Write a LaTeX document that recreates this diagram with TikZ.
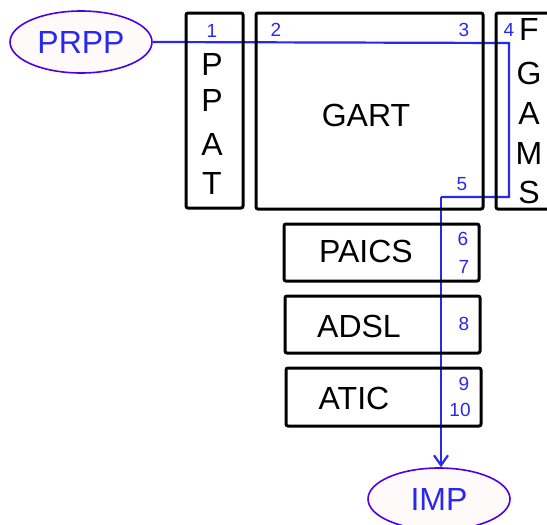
\documentclass[tikz,border=0pt]{standalone}
\usepackage{fontspec}
\setmainfont{Liberation Sans}
\usetikzlibrary{shapes.geometric,arrows.meta}
\definecolor{pathblue}{RGB}{40,40,240}
\definecolor{ovalline}{RGB}{80,0,230}
\definecolor{ovalfill}{RGB}{255,250,250}
\newcommand{\BIG}{\fontsize{16}{19}\selectfont}
\newcommand{\SMALL}{\fontsize{9.5}{11}\selectfont}

\tikzset{
  enz/.style={draw=black, line width=1.5pt, rounded corners=1pt},
  metab/.style={ellipse, draw=ovalline, fill=ovalfill, line width=0.8pt,
    minimum width=71pt, minimum height=31pt, inner sep=0pt,
    text=pathblue, font=\BIG},
  lbl/.style={inner sep=0pt, font=\BIG},
  num/.style={inner sep=0pt, text=pathblue, font=\SMALL},
  flow/.style={draw=pathblue, line width=1.1pt},
}

\begin{document}
\begin{tikzpicture}[x=0.5pt,y=-0.5pt]
    \useasboundingbox (0,0) rectangle (547,525);

    \node[metab] (prpp) at (81,42) {PRPP};
    \node[metab] (imp)  at (439,499) {IMP};

    \coordinate (c4) at (509,43);
    \coordinate (c5) at (509,197);
    \coordinate (c5b) at (441,197);

    % pathway line
    \draw[flow] (prpp.east) -- (c4) -- (c5) -- (c5b);
    \draw[flow,-{Straight Barb[length=5pt,width=7pt]}] (c5b) -- (c5b |- imp.north);

    % enzyme boxes
    \draw[enz] (186,13) rectangle (243,208);
    \draw[enz] (256,13) rectangle (483,209);
    \draw[enz] (496,13) rectangle (552,209);
    \draw[enz] (284,224) rectangle (479,281);
    \draw[enz] (285,296) rectangle (480,353);
    \draw[enz] (286,368) rectangle (481,426);

    \node[lbl] (ppat1) at (212,64)  {P};
    \node[lbl] (ppat2) at (212,100) {P};
    \node[lbl] (ppat3) at (212,144) {A};
    \node[lbl] (ppat4) at (212,183) {T};

    \node[lbl] (fgams1) at (529,29)  {F};
    \node[lbl] (fgams2) at (529,73)  {G};
    \node[lbl] (fgams3) at (529,113) {A};
    \node[lbl] (fgams4) at (529,153) {M};
    \node[lbl] (fgams5) at (529,192) {S};

    \node[lbl] (gart)  at (366,115) {GART};
    \node[lbl] (paics) at (366,251) {PAICS};
    \node[lbl] (adsl)  at (359,326) {ADSL};
    \node[lbl] (atic)  at (354,398) {ATIC};

    % step numbers
    \node[num] (n1)  at (212,31)  {1};
    \node[num] (n2)  at (276,30)  {2};
    \node[num] (n3)  at (464,30)  {3};
    \node[num] (n4)  at (509,30)  {4};
    \node[num] (n5)  at (462,184) {5};
    \node[num] (n6)  at (463,239) {6};
    \node[num] (n7)  at (464,267) {7};
    \node[num] (n8)  at (464,324) {8};
    \node[num] (n9)  at (464,384) {9};
    \node[num] (n10) at (460,410) {10};
\end{tikzpicture}
\end{document}
